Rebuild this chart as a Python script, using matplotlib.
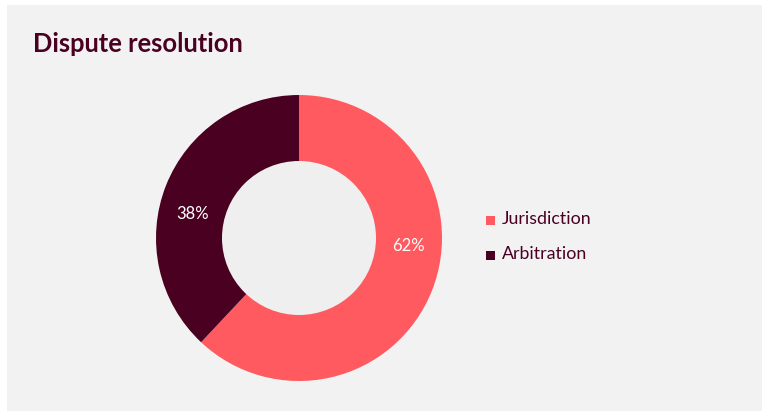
import numpy as np
import matplotlib
matplotlib.use("Agg")
import matplotlib.pyplot as plt
from matplotlib.patches import Rectangle, Circle

# Data
categories = ["Jurisdiction", "Arbitration"]
shares = [62, 38]
colors = ["#ff5a5f", "#4a0020"]
title = "Dispute resolution"

W, H = 767, 413
DPI = 100
fig = plt.figure(figsize=(W / DPI, H / DPI), dpi=DPI)
fig.patch.set_facecolor("white")

# Light grey card behind everything
fig.patches.append(Rectangle((7 / W, 2 / H), 755 / W, 406 / H,
                             transform=fig.transFigure, facecolor="#f2f2f2",
                             edgecolor="none", zorder=-10))

font = ["Lato", "DejaVu Sans"]
text_color = "#4a0020"

fig.text(33 / W, 1 - 44 / H, title, fontsize=18.4, fontweight="bold",
         color=text_color, family=font, va="center", ha="left")

# Donut axes (centre ~ (299, 238) px, outer radius 143 px)
cx, cy, R = 299, 238, 143
ax = fig.add_axes([(cx - R) / W, (H - cy - R) / H, 2 * R / W, 2 * R / H])
ax.set_facecolor("none")
wedges, _ = ax.pie(shares, colors=colors, startangle=90, counterclock=False,
                   radius=1.0, wedgeprops=dict(width=1.0, linewidth=0))
inner = 77 / 143
ax.add_patch(Circle((0, 0), inner, facecolor="#efefef", edgecolor="none", zorder=5))
ax.set_xlim(-1, 1)
ax.set_ylim(-1, 1)
ax.set_aspect("equal")
ax.axis("off")

# Percentage labels inside the ring
label_angles = [-4, 167.5]
label_r = 0.765
for s, a in zip(shares, label_angles):
    t = np.deg2rad(a)
    ax.text(label_r * np.cos(t), label_r * np.sin(t), f"{s}%", color="white",
            fontsize=12, family=font, ha="center", va="center", zorder=6)

# Legend
for i, (name, c) in enumerate(zip(categories, colors)):
    y = 220 + i * 35
    fig.patches.append(Rectangle((486 / W, 1 - (y + 4.5) / H), 9 / W, 9 / H,
                                 transform=fig.transFigure, facecolor=c,
                                 edgecolor="none", zorder=3))
    fig.text(502 / W, 1 - (y - 1) / H, name, fontsize=12.8, color=text_color,
             family=font, va="center", ha="left")

fig.savefig("out.png", dpi=DPI, facecolor=fig.get_facecolor())
